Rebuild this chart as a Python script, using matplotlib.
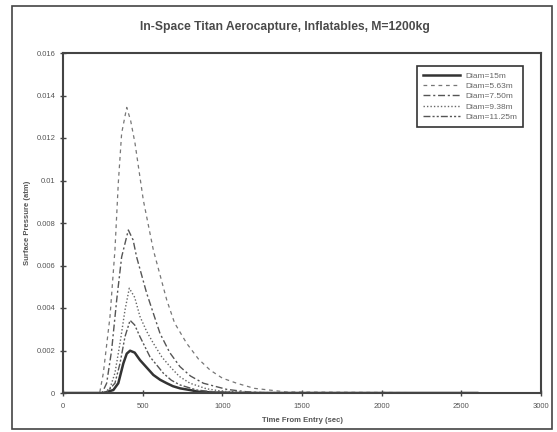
import matplotlib
matplotlib.use('Agg')
import matplotlib.pyplot as plt
from matplotlib.patches import Rectangle
from matplotlib.ticker import MultipleLocator

plt.rcParams['font.family'] = ['Liberation Sans', 'DejaVu Sans']

# Daten, Zeit in s, Druck in atm
t_15 = [0, 253, 316, 347, 379, 400, 421, 450, 483, 525, 567, 610, 651, 690, 734, 797, 850, 950, 1100, 2600]
p_15 = [0, 0, 0.00014, 0.00046, 0.0014, 0.00185, 0.00199, 0.0019, 0.00155, 0.0012, 0.00085, 0.00062, 0.00046, 0.00032, 0.00022, 0.00014, 0.00006, 0.00002, 0, 0]

t_1125 = [0, 270, 326, 358, 389, 421, 450, 483, 546, 590, 630, 680, 734, 839, 950, 1150, 2600]
p_1125 = [0, 0, 0.00046, 0.0014, 0.00265, 0.00342, 0.0032, 0.00265, 0.0017, 0.0013, 0.00093, 0.0006, 0.00038, 0.00014, 0.00005, 0, 0]

t_938 = [0, 255, 295, 326, 358, 389, 416, 450, 483, 525, 567, 620, 672, 730, 797, 900, 1000, 1200, 2600]
p_938 = [0, 0, 0.00023, 0.00094, 0.00235, 0.0039, 0.00493, 0.0045, 0.0036, 0.0029, 0.00234, 0.0017, 0.00124, 0.00078, 0.00046, 0.0002, 0.00008, 0.00002, 0]

t_750 = [0, 245, 274, 305, 337, 368, 410, 440, 462, 525, 609, 670, 734, 800, 881, 1028, 1150, 1300, 2600]
p_750 = [0, 0, 0.00046, 0.002, 0.00438, 0.0064, 0.00767, 0.0072, 0.0064, 0.0047, 0.0028, 0.0019, 0.00124, 0.0008, 0.00046, 0.00017, 0.00006, 0, 0]

t_563 = [0, 230, 253, 295, 326, 347, 368, 400, 425, 452, 504, 567, 651, 700, 776, 850, 923, 1000, 1090, 1200, 1400, 2600]
p_563 = [0, 0, 0.00093, 0.0036, 0.00673, 0.00987, 0.01222, 0.01344, 0.0128, 0.01175, 0.00908, 0.00673, 0.00438, 0.0033, 0.00234, 0.0016, 0.00108, 0.0007, 0.00046, 0.00022, 0.00005, 0]

Labels = ['Diam=15m', 'Diam=5.63m', 'Diam=7.50m', 'Diam=9.38m', 'Diam=11.25m']

fig = plt.figure(figsize=(5.57, 4.32), dpi=100)
ax = fig.add_axes([63/557, 1-393/432, 478/557, 340/432])

# Linien
ax.plot(t_15, p_15, color='#333333', lw=1.8, ls='-', label=Labels[0])
ax.plot(t_563, p_563, color='#777777', lw=0.9, ls=(0, (3, 3)), label=Labels[1])
ax.plot(t_750, p_750, color='#555555', lw=1.0, ls=(0, (5, 2, 1.5, 2)), label=Labels[2])
ax.plot(t_938, p_938, color='#666666', lw=1.0, ls=(0, (1, 1.5)), label=Labels[3])
ax.plot(t_1125, p_1125, color='#555555', lw=1.0, ls=(0, (5, 1.5, 1.5, 1.5, 1.5, 1.5)), label=Labels[4])

ax.set_xlim(0, 3000)
ax.set_ylim(0, 0.016)
ax.xaxis.set_major_locator(MultipleLocator(500))
ax.set_yticks([0, 0.002, 0.004, 0.006, 0.008, 0.01, 0.012, 0.014, 0.016])
ax.set_yticklabels(['0', '0.002', '0.004', '0.006', '0.008', '0.01', '0.012', '0.014', '0.016'])
ax.tick_params(direction='inout', length=5, width=1, colors='#444444', labelsize=5.5, labelcolor='#555555', pad=3)
ax.tick_params(axis='x', pad=5)
for s in ax.spines.values():
    s.set_color('#444444')
    s.set_linewidth(1.5)

ax.set_xlabel('Time From Entry (sec)', fontsize=5.5, fontweight='bold', color='#555555')
ax.set_ylabel('Surface Pressure (atm)', fontsize=5.5, fontweight='bold', color='#555555')
ax.xaxis.set_label_coords(0.5, -0.072)
ax.yaxis.set_label_coords(-0.066, 0.5)

fig.text(285/557, 1-27/432, 'In-Space Titan Aerocapture, Inflatables, M=1200kg',
         ha='center', va='center', fontsize=8.7, fontweight='bold', color='#4a4a4a')

leg = ax.legend(loc='upper right', bbox_to_anchor=(0.962, 0.962), borderaxespad=0,
                fontsize=6, handlelength=4.5, labelspacing=0.3, fancybox=False,
                framealpha=1, edgecolor='#333333', borderpad=0.7, handletextpad=0.6)
leg.get_frame().set_linewidth(1.2)
for txt in leg.get_texts():
    txt.set_color('#666666')

# Rahmen um die ganze Abbildung
fig.patches.append(Rectangle((12/557, 3/432), 540/557, 423/432, transform=fig.transFigure,
                             fill=False, edgecolor='#444444', lw=1.2))

fig.savefig('out.png', dpi=100)
